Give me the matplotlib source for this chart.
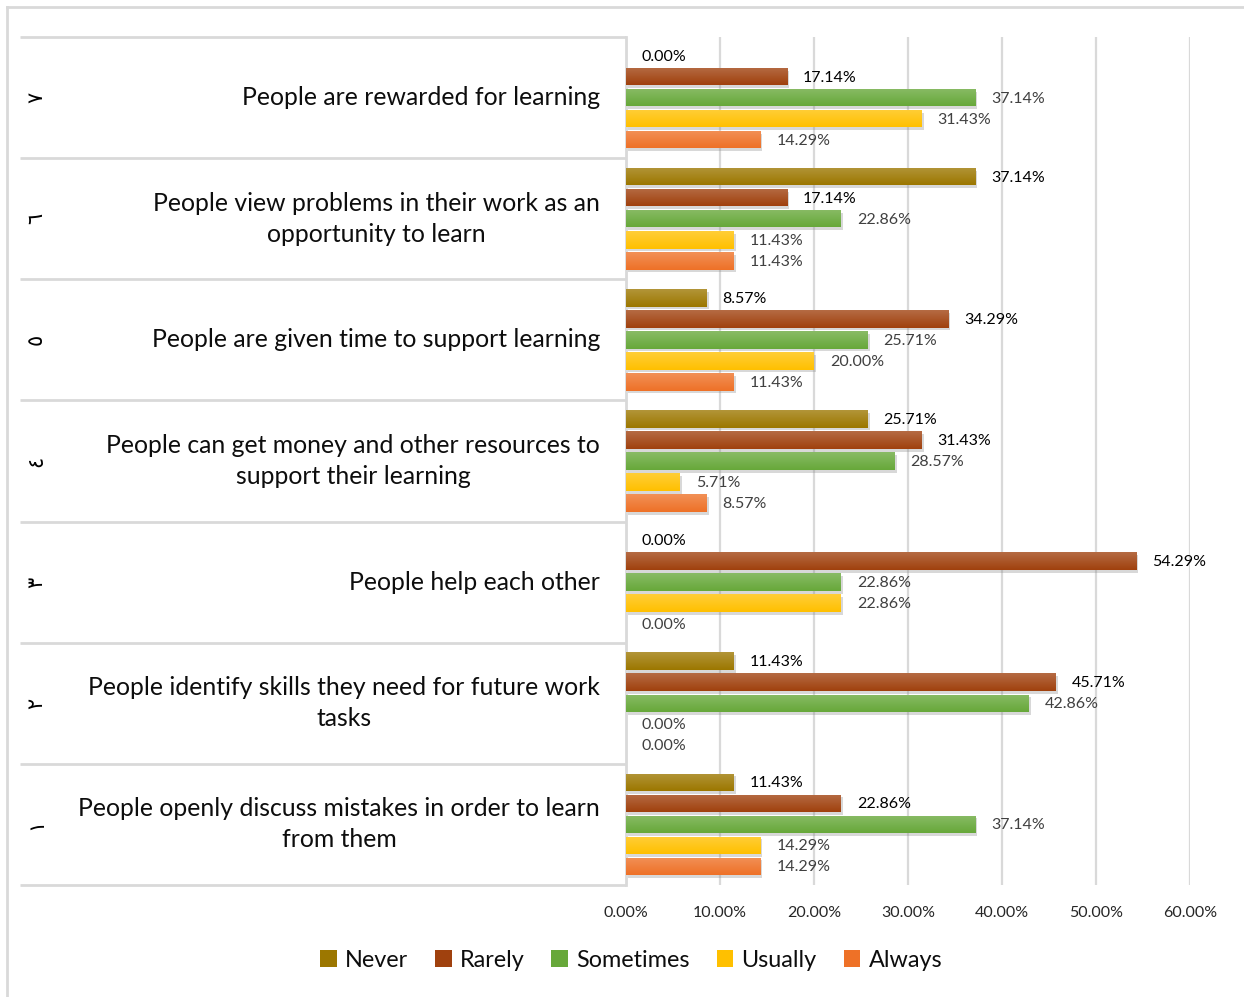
import matplotlib
matplotlib.use("Agg")
import numpy as np
import matplotlib.pyplot as plt
import matplotlib.patheffects as pe
from matplotlib.colors import LinearSegmentedColormap, to_rgb
from matplotlib.lines import Line2D
from matplotlib.patches import Patch
from matplotlib.ticker import PercentFormatter, MultipleLocator

plt.rcParams["font.family"] = ["Lato", "DejaVu Sans"]

statements = [
    "People are rewarded for learning",
    "People view problems in their work as an\nopportunity to learn",
    "People are given time to support learning",
    "People can get money and other resources to\nsupport their learning",
    "People help each other",
    "People identify skills they need for future work\ntasks",
    "People openly discuss mistakes in order to learn\nfrom them",
]
item_numbers = ["\u0667", "\u0666", "\u0665", "\u0664", "\u0663", "\u0662", "\u0661"]

responses = ["Never", "Rarely", "Sometimes", "Usually", "Always"]
never = [0.00, 37.14, 8.57, 25.71, 0.00, 11.43, 11.43]
rarely = [17.14, 17.14, 34.29, 31.43, 54.29, 45.71, 22.86]
sometimes = [37.14, 22.86, 25.71, 28.57, 22.86, 42.86, 37.14]
usually = [31.43, 11.43, 20.00, 5.71, 22.86, 0.00, 14.29]
always = [14.29, 11.43, 11.43, 8.57, 0.00, 0.00, 14.29]
series = [never, rarely, sometimes, usually, always]

colors = ["#9C7700", "#A0410E", "#67A83A", "#FFC000", "#EE7127"]
label_colors = ["#000000", "#000000", "#404040", "#404040", "#404040"]
grid_color = "#D9D9D9"

W, H = 1244, 997
fig = plt.figure(figsize=(W / 100, H / 100), dpi=100)
ax_l, ax_r, ax_t, ax_b = 626, 1190, 37, 885
ax = fig.add_axes([ax_l / W, 1 - ax_b / H, (ax_r - ax_l) / W, (ax_b - ax_t) / H])

n = len(statements)
y = np.arange(n)
step = 0.1736
bar_h = 0.145


def lighten(c, f):
    r, g, b = to_rgb(c)
    return (r + (1 - r) * f, g + (1 - g) * f, b + (1 - b) * f)


grad = np.linspace(0, 1, 32).reshape(-1, 1)
shadow = [pe.SimplePatchShadow(offset=(1.5, -2), shadow_rgbFace="#808080", alpha=0.3), pe.Normal()]

for k, (name, vals) in enumerate(zip(responses, series)):
    pos = y + (k - 2) * step
    bars = ax.barh(pos, vals, height=bar_h, color=colors[k], zorder=3)
    cmap = LinearSegmentedColormap.from_list(name, [lighten(colors[k], 0.22), colors[k]])
    for b, v, p in zip(bars, vals, pos):
        if v > 0:
            b.set_path_effects(shadow)
            im = ax.imshow(grad, cmap=cmap, aspect="auto", origin="upper", zorder=4,
                           extent=(0, v, p + bar_h / 2, p - bar_h / 2))
            im.set_clip_path(b)
        ax.annotate(f"{v:.2f}%", (v, p), xytext=(16, -1), textcoords="offset pixels",
                    va="center", ha="left", fontsize=11.5, color=label_colors[k], zorder=5)

ax.set_xlim(0, 60)
ax.set_ylim(n - 0.5, -0.5)
ax.xaxis.set_major_locator(MultipleLocator(10))
ax.xaxis.set_major_formatter(PercentFormatter(xmax=100, decimals=2))
ax.grid(axis="x", color=grid_color, linewidth=1.6, zorder=0)
ax.set_axisbelow(True)
ax.set_yticks([])
for s in ["top", "right", "bottom"]:
    ax.spines[s].set_visible(False)
ax.spines["left"].set_color(grid_color)
ax.spines["left"].set_linewidth(2)
ax.tick_params(axis="x", length=0, pad=15, labelsize=11.5, labelcolor="#262626")

# category table on the left of the plot
x_table = (20 - ax_l) / (ax_r - ax_l)
ax.hlines(np.arange(n + 1) - 0.5, x_table, 0, transform=ax.get_yaxis_transform(),
          color=grid_color, linewidth=2, clip_on=False)
for i, (txt, num) in enumerate(zip(statements, item_numbers)):
    ax.annotate(txt, (0, i), xycoords=ax.get_yaxis_transform(), xytext=(-26, 0),
                textcoords="offset pixels", ha="right", va="center", multialignment="center",
                fontsize=17.8, color="#0D0D0D", linespacing=1.42)
    ax.annotate(num, (x_table, i), xycoords=ax.get_yaxis_transform(), xytext=(16, 0),
                textcoords="offset pixels", ha="center", va="center", rotation=90,
                fontsize=15, color="#000000", family="DejaVu Sans")

# chart frame
fig.add_artist(Line2D([7 / W, 7 / W], [0, 1 - 7 / H], color=grid_color, linewidth=2))
fig.add_artist(Line2D([7 / W, 1], [1 - 7 / H, 1 - 7 / H], color=grid_color, linewidth=2))

handles = [Patch(facecolor=c, label=r) for c, r in zip(colors, responses)]
fig.legend(handles=handles, loc="center", bbox_to_anchor=(631 / W, 1 - 960 / H), ncol=5,
           frameon=False, fontsize=16.8, handlelength=0.72, handleheight=0.72,
           handletextpad=0.35, columnspacing=1.15, labelcolor="#0D0D0D")

fig.savefig("out.png", dpi=100, facecolor="white")
